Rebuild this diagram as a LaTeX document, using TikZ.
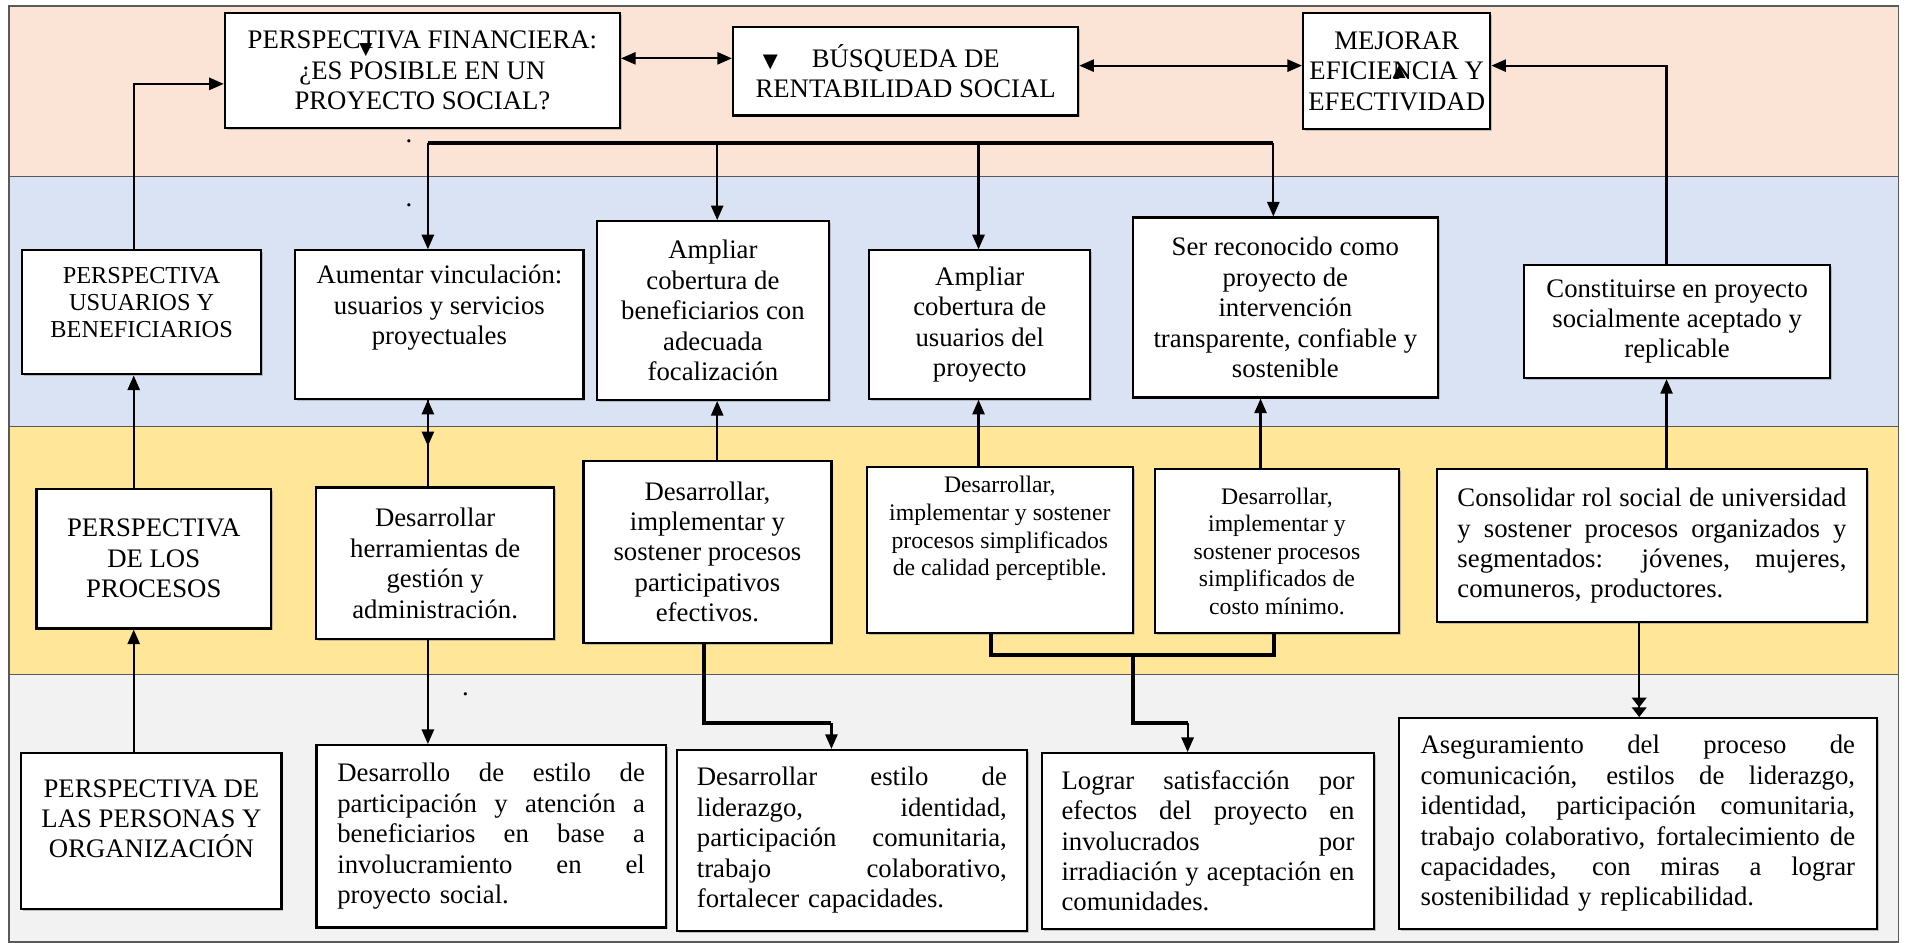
\documentclass[tikz,border=0pt]{standalone}
\usepackage{fontspec}
\setmainfont{Liberation Serif}
\newfontfamily\simbolos{DejaVu Sans}
\usetikzlibrary{shapes,arrows.meta,shadows}
\definecolor{fondoA}{RGB}{251,228,214}
\definecolor{fondoB}{RGB}{218,227,243}
\definecolor{fondoC}{RGB}{255,230,153}
\definecolor{fondoD}{RGB}{242,242,242}
\newcommand{\linea}[1]{\makebox[\hsize][s]{\spaceskip=0pt\xspaceskip=0pt\relax #1}}

\begin{document}
\begin{tikzpicture}[x=0.5pt,y=-0.5pt]
\tikzstyle{caja} = [draw=black, fill=white, line width=0.9pt, align=center, inner sep=2pt, font=\fontsize{11}{12.5}\selectfont, drop shadow={shadow xshift=0.8pt,shadow yshift=-0.8pt,fill=black!45}]
\tikzstyle{cajachica} = [caja, font=\fontsize{9.75}{11.35}\selectfont]
\tikzstyle{cajajust} = [caja, align=left]
\tikzstyle{flecha} = [-{Triangle[length=6pt,width=5pt]}, line width=0.9pt]
\tikzstyle{flechados} = [-{Triangle[length=4pt,width=6pt] Triangle[length=4pt,width=6pt]}, line width=0.9pt]
\tikzstyle{doble} = [{Triangle[length=6pt,width=5pt]}-{Triangle[length=6pt,width=5pt]}, line width=0.9pt]
\tikzstyle{grueso} = [line width=1.6pt]
\tikzstyle{franja} = [draw=black!65, line width=0.6pt]
\tikzstyle{marca} = [font=\simbolos\fontsize{7}{8}\selectfont, inner sep=0pt]
\tikzstyle{punto} = [font=\fontsize{11}{12}\selectfont, inner sep=0pt]

\useasboundingbox (0,0) rectangle (1568,775);
% franjas
\filldraw[franja, fill=fondoA] (7.5,5) rectangle (1562,145);
\filldraw[franja, fill=fondoB] (7.5,145) rectangle (1562,351);
\filldraw[franja, fill=fondoC] (7.5,351) rectangle (1562,555);
\filldraw[franja, fill=fondoD] (7.5,555) rectangle (1562,775);

% perspectiva financiera
\node[caja, minimum width=162.5pt, minimum height=47pt] (fin) at (347.5,58) {PERSPECTIVA FINANCIERA:\\ ¿ES POSIBLE EN UN\\ PROYECTO SOCIAL?};
\node[caja, minimum width=142pt, minimum height=36.5pt] (busq) at (745,58.5) {{\simbolos\fontsize{8}{9}\selectfont ▼}\hspace{14pt}BÚSQUEDA DE\hspace*{20pt}\\ RENTABILIDAD SOCIAL};
\node[caja, minimum width=77pt, minimum height=47.5pt] (mej) at (1149,58.5) {MEJORAR\\ EFICIENCIA Y\\ EFECTIVIDAD};
\node[marca] (marcaA) at (301,41) {▼};
\node[marca] (marcaB) at (1151,59) {▲};

% perspectiva usuarios
\node[caja, font=\fontsize{10}{11}\selectfont, minimum width=98.5pt, minimum height=51pt] (usu) at (116.5,257) {PERSPECTIVA\\ USUARIOS Y\\ BENEFICIARIOS\\[-6pt] \strut};
\node[caja, minimum width=118.5pt, minimum height=61pt] (aum) at (361.5,267) {Aumentar vinculación:\\ usuarios y servicios\\ proyectuales\\ \strut};
\node[caja, minimum width=95.5pt, minimum height=73.5pt] (amp1) at (586.5,255.5) {Ampliar\\ cobertura de\\ beneficiarios con\\ adecuada\\ focalización};
\node[caja, minimum width=91pt, minimum height=61pt] (amp2) at (806,267) {Ampliar\\ cobertura de\\ usuarios del\\ proyecto};
\node[caja, minimum width=125.4pt, minimum height=74pt] (ser) at (1057.4,253) {Ser reconocido como\\ proyecto de\\ intervención\\ transparente, confiable y\\ sostenible};
\node[caja, minimum width=126pt, minimum height=46.5pt] (con) at (1379.7,264.5) {Constituirse en proyecto\\ socialmente aceptado y\\ replicable};

% perspectiva procesos
\node[caja, minimum width=96.5pt, minimum height=57.5pt] (proc) at (126.5,459.5) {PERSPECTIVA\\ DE LOS\\ PROCESOS};
\node[caja, minimum width=98pt, minimum height=62.5pt] (herr) at (358,463.5) {Desarrollar\\ herramientas de\\ gestión y\\ administración.};
\node[caja, minimum width=102pt, minimum height=75pt] (part) at (582,454) {Desarrollar,\\ implementar y\\ sostener procesos\\ participativos\\ efectivos.};
\node[cajachica, minimum width=109.5pt, minimum height=68.5pt] (cal) at (822.5,452.5) {Desarrollar,\\ implementar y sostener\\ procesos simplificados\\ de calidad perceptible.\\[5pt] \strut};
\node[cajachica, minimum width=100.5pt, minimum height=67.5pt] (cost) at (1050.5,453.5) {Desarrollar,\\ implementar y\\ sostener procesos\\ simplificados de\\ costo mínimo.};
\node[cajajust, text width=160pt, minimum width=177pt, minimum height=63pt] (cons) at (1359,449) {\linea{Consolidar rol social de universidad}\\ \linea{y sostener procesos organizados y}\\ \linea{segmentados: jóvenes, mujeres,}\\ comuneros, productores.};

% perspectiva personas
\node[caja, minimum width=107pt, minimum height=64.2pt] (pers) at (124.6,683.8) {PERSPECTIVA DE\\ LAS PERSONAS Y\\ ORGANIZACIÓN\\[-6pt] \strut};
\node[cajajust, text width=126.5pt, minimum width=143.6pt, minimum height=75pt] (dest) at (404,688) {\linea{Desarrollo de estilo de}\\ \linea{participación y atención a}\\ \linea{beneficiarios en base a}\\ \linea{involucramiento en el}\\ proyecto social.};
\node[cajajust, text width=127.5pt, minimum width=144pt, minimum height=74.3pt] (lid) at (700.8,691.3) {\linea{Desarrollar estilo de}\\ \linea{liderazgo, identidad,}\\ \linea{participación comunitaria,}\\ \linea{trabajo colaborativo,}\\ fortalecer capacidades.};
\node[cajajust, text width=120.5pt, minimum width=136.8pt, minimum height=72.2pt] (log) at (993.8,691.8) {\linea{Lograr satisfacción por}\\ \linea{efectos del proyecto en}\\ \linea{involucrados por}\\ \linea{irradiación y aceptación en}\\ comunidades.};
\node[cajajust, text width=178.7pt, minimum width=196.4pt, minimum height=86.6pt] (ase) at (1347.4,677.4) {\linea{Aseguramiento del proceso de}\\ \linea{comunicación, estilos de liderazgo,}\\ \linea{identidad, participación comunitaria,}\\ \linea{trabajo colaborativo, fortalecimiento de}\\ \linea{capacidades, con miras a lograr}\\ sostenibilidad y replicabilidad.};

% puntos sueltos
\node[punto] (punto1) at (336.5,116) {.};
\node[punto] (punto2) at (336.5,169) {.};
\node[punto] (punto3) at (383,571) {.};

% ejes y codos
\coordinate (ejeA) at (110,0);
\coordinate (ejeB) at (352,0);
\coordinate (ejeC) at (590,0);
\coordinate (ejeD) at (805,0);
\coordinate (ejeE) at (1037,0);
\coordinate (ejeF) at (1371,0);
\coordinate (ejeG) at (579,0);
\coordinate (ejeH) at (815,0);
\coordinate (ejeI) at (1048,0);
\coordinate (ejeJ) at (932,0);
\coordinate (ejeK) at (1348.5,0);
\coordinate (filaA) at (0,69);
\coordinate (filaB) at (0,48);
\coordinate (filaC) at (0,54);
\coordinate (filaD) at (0,539);
\coordinate (dist1) at (352,118);
\coordinate (dist2) at (590,118);
\coordinate (dist3) at (805,118);
\coordinate (dist4) at (1047.5,118);
\coordinate (puntaB) at (352,367);
\coordinate (codoA) at (684,595);
\coordinate (codoB) at (977,595);

% conexiones arriba
\draw[flecha] (ejeA |- pers.north) -- (ejeA |- proc.south);
\draw[flecha] (ejeA |- proc.north) -- (ejeA |- usu.south);
\draw[flecha] (ejeA |- usu.north) |- (fin.west |- filaA);
\draw[doble] (fin.east |- filaB) -- (busq.west |- filaB);
\draw[doble] (busq.east |- filaC) -- (mej.west |- filaC);
\draw[flecha] (ejeF |- con.north) |- (mej.east |- filaC);

\draw[grueso] (dist1) -- (dist4);
\draw[flecha] (dist1) -- (dist1 |- aum.north);
\draw[flecha] (dist2) -- (dist2 |- amp1.north);
\draw[flecha] (dist3) -- (dist3 |- amp2.north);
\draw[flecha] (dist4) -- (dist4 |- ser.north);

% procesos hacia usuarios
\draw[flecha] (ejeB |- herr.north) -- (ejeB |- aum.south);
\draw[flecha] (ejeB |- aum.south) -- (puntaB);
\draw[flecha] (ejeC |- part.north) -- (ejeC |- amp1.south);
\draw[flecha] (ejeD |- cal.north) -- (ejeD |- amp2.south);
\draw[flecha] (ejeE |- cost.north) -- (ejeE |- ser.south);
\draw[flecha] (ejeF |- cons.north) -- (ejeF |- con.south);

% procesos hacia personas
\draw[flecha] (ejeB |- herr.south) -- (ejeB |- dest.north);
\draw[grueso] (ejeG |- part.south) |- (codoA);
\draw[flecha] (codoA) -- (codoA |- lid.north);
\draw[grueso] (ejeH |- cal.south) -- (ejeH |- filaD) -- (ejeI |- filaD) -- (ejeI |- cost.south);
\draw[grueso] (ejeJ |- filaD) |- (codoB);
\draw[flecha] (codoB) -- (codoB |- log.north);
\draw[flechados] (ejeK |- cons.south) -- (ejeK |- ase.north);
\end{tikzpicture}
\end{document}
